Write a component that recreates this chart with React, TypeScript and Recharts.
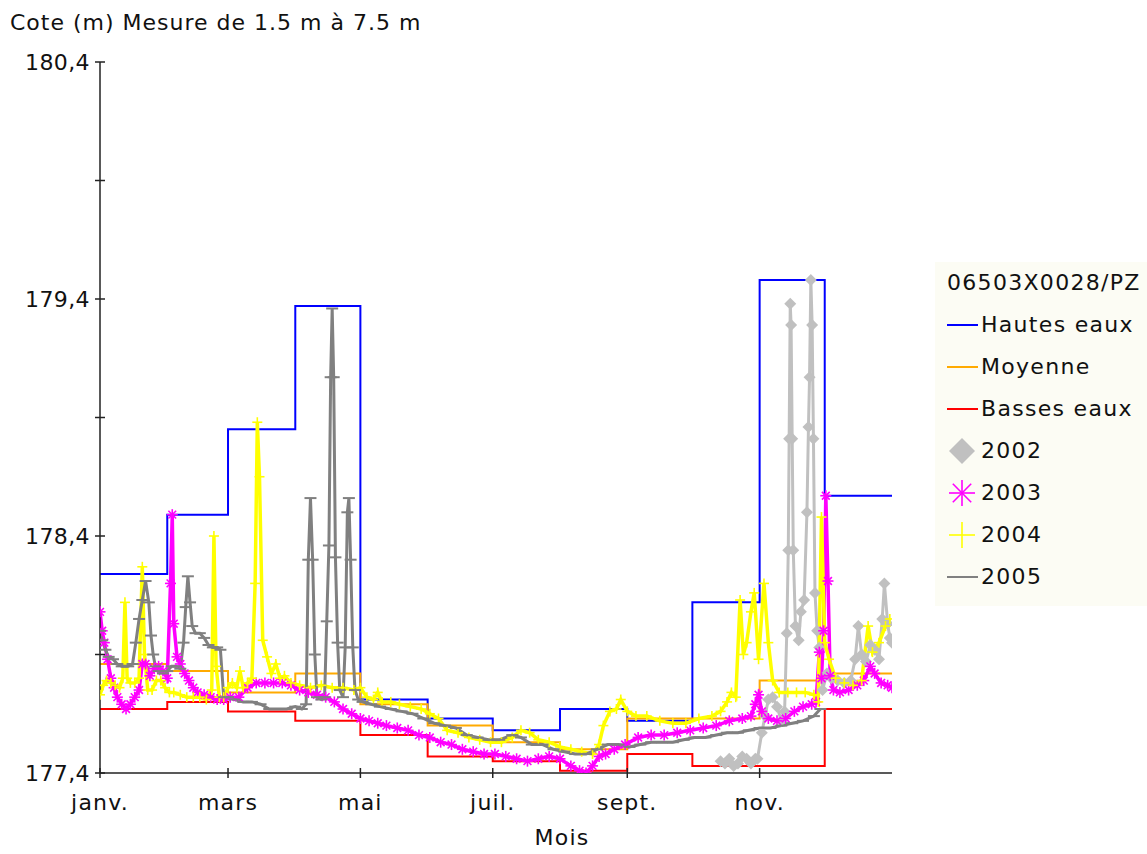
import React from 'react';
import { ComposedChart, Line, XAxis, YAxis, Legend } from 'recharts';

// ---- Reference steps (monthly) ----
const MONTH_START_DAYS = [0, 31, 59, 90, 120, 151, 181, 212, 243, 273, 304, 334, 365];
const HAUTES_EAUX = [178.24, 178.49, 178.85, 179.37, 177.71, 177.63, 177.58, 177.67, 177.62, 178.12, 179.48, 178.57];
const MOYENNE = [177.86, 177.83, 177.74, 177.82, 177.69, 177.6, 177.53, 177.5, 177.63, 177.63, 177.79, 177.82];
const BASSES_EAUX = [177.67, 177.70, 177.66, 177.62, 177.56, 177.47, 177.45, 177.41, 177.48, 177.43, 177.43, 177.67];

// ---- Axis ticks ----
const X_TICKS = [0, 59, 120, 181, 243, 304];
const X_TICK_LABELS = ['janv.', 'mars', 'mai', 'juil.', 'sept.', 'nov.'];
const Y_TICKS = [177.4, 177.9, 178.4, 178.9, 179.4, 179.9, 180.4];
const Y_LABELED = [177.4, 178.4, 179.4, 180.4];

// ---- Yearly measurements: [day of year, level] ----
const Y2002: [number, number][] = [
  [286, 177.45], [288, 177.44], [290, 177.46], [292, 177.43], [294, 177.44], [296, 177.47], [298, 177.46],
  [300, 177.44], [302, 177.46], [303, 177.46], [305, 177.57], [306.5, 177.64], [308, 177.71], [310, 177.72],
  [312, 177.68], [314, 177.62], [315.5, 177.66], [316.5, 177.99], [317.2, 178.34], [317.6, 178.81],
  [318.1, 179.38], [318.5, 179.29], [319, 178.81], [319.5, 178.34], [320.5, 178.02], [322, 177.96],
  [323, 178.08], [324.5, 178.13], [325.8, 178.5], [326.5, 178.86], [327, 179.07], [327.6, 179.48],
  [328.2, 179.29], [328.8, 178.81], [329.5, 178.16], [330.5, 178.0], [331.5, 177.93], [333, 177.75],
  [335, 177.82], [337, 177.8], [340, 177.79], [343, 177.78], [346, 177.79], [348, 177.88], [349.5, 178.02],
  [351, 177.9], [353, 177.87], [355, 177.94], [357, 177.92], [359, 177.88], [360.5, 178.05], [361.5, 178.2],
  [363, 178.03], [364, 177.97], [365, 177.95],
];

const Y2003: [number, number][] = [
  [0, 178.08], [1, 178.0], [2, 177.95], [3.5, 177.88], [5, 177.8], [6.5, 177.76], [8, 177.72], [10, 177.69],
  [12, 177.67], [14, 177.69], [16, 177.72], [18, 177.75], [19.5, 177.86], [21, 177.86], [23, 177.81],
  [25, 177.84], [27, 177.85], [29, 177.83], [31, 177.8], [32.5, 178.2], [33.3, 178.49], [34, 178.03],
  [35.5, 177.89], [37, 177.86], [39, 177.82], [41, 177.79], [43, 177.76], [45, 177.74], [48, 177.73],
  [51, 177.72], [54, 177.71], [57, 177.71], [60, 177.72], [64, 177.72], [68, 177.76], [72, 177.78],
  [76, 177.78], [80, 177.78], [84, 177.78], [88, 177.77], [92, 177.75], [96, 177.74], [100, 177.73],
  [104, 177.72], [108, 177.7], [112, 177.67], [116, 177.65], [120, 177.63], [124, 177.62], [128, 177.61],
  [132, 177.6], [137, 177.59], [142, 177.58], [147, 177.56], [152, 177.55], [157, 177.53], [162, 177.52],
  [167, 177.5], [172, 177.49], [177, 177.48], [182, 177.48], [187, 177.47], [192, 177.46], [197, 177.45],
  [202, 177.46], [207, 177.47], [212, 177.46], [217, 177.43], [221, 177.41], [224, 177.4], [227, 177.43],
  [230, 177.47], [233, 177.48], [237, 177.5], [242, 177.52], [248, 177.55], [254, 177.56], [260, 177.56],
  [266, 177.57], [272, 177.58], [278, 177.59], [284, 177.6], [290, 177.62], [296, 177.63], [300, 177.64],
  [302, 177.69], [303.5, 177.73], [305, 177.66], [308, 177.63], [312, 177.62], [316, 177.63], [320, 177.66],
  [324, 177.68], [328, 177.69], [330, 177.7], [331.5, 177.91], [332.5, 177.8], [333.5, 178.0], [334.5, 178.57],
  [335.5, 178.21], [336.5, 177.81], [338, 177.75], [341, 177.74], [345, 177.75], [349, 177.77], [352, 177.79],
  [355, 177.85], [357, 177.82], [360, 177.78], [363, 177.77], [365, 177.76],
];

const Y2004: [number, number][] = [
  [0, 177.73], [1.5, 177.77], [3, 177.79], [5, 177.78], [7, 177.77], [9, 177.76], [10.5, 177.8], [11.5, 178.12],
  [12.5, 177.8], [14, 177.78], [16, 177.78], [18, 177.8], [19.5, 178.27], [20.5, 177.9], [22, 177.75],
  [24, 177.75], [26, 177.79], [28, 177.79], [30, 177.76], [32, 177.74], [34, 177.74], [37, 177.73],
  [40, 177.72], [43, 177.72], [46, 177.72], [49, 177.71], [51.5, 177.75], [52.5, 178.4], [53.5, 177.85],
  [55, 177.72], [57, 177.72], [59, 177.76], [61, 177.78], [63, 177.76], [64.5, 177.83], [66, 177.76],
  [68, 177.78], [70, 177.8], [71.5, 178.2], [72.5, 178.88], [73.5, 178.65], [75, 177.96], [77, 177.89],
  [79, 177.82], [81, 177.86], [83, 177.8], [85, 177.81], [88, 177.78], [92, 177.77], [97, 177.76],
  [102, 177.77], [107, 177.76], [112, 177.76], [117, 177.75], [120, 177.76], [123, 177.72], [126, 177.71],
  [128, 177.74], [130, 177.7], [134, 177.7], [138, 177.69], [143, 177.68], [148, 177.67], [152, 177.65],
  [156, 177.63], [160, 177.58], [165, 177.57], [170, 177.55], [175, 177.54], [180, 177.53], [185, 177.53],
  [190, 177.55], [194, 177.58], [198, 177.57], [202, 177.54], [207, 177.53], [212, 177.51], [217, 177.5],
  [222, 177.49], [227, 177.48], [230, 177.52], [232, 177.6], [235, 177.66], [238, 177.67], [240, 177.71],
  [243, 177.66], [247, 177.64], [252, 177.64], [258, 177.62], [264, 177.61], [270, 177.61], [276, 177.63],
  [282, 177.64], [286, 177.66], [289, 177.7], [291, 177.74], [293, 177.72], [295, 178.13], [296.5, 177.9],
  [298, 177.95], [300, 178.08], [301.5, 178.16], [303.5, 177.88], [306, 178.2], [308, 177.95], [310, 177.79],
  [313, 177.74], [317, 177.74], [321, 177.74], [325, 177.74], [329, 177.73], [331, 177.7], [332.5, 178.48],
  [334, 177.95], [336, 177.88], [339, 177.8], [343, 177.78], [347, 177.77], [351, 177.79], [354, 178.02],
  [356, 177.91], [359, 177.95], [362, 178.02], [364, 178.05],
];

const Y2005: [number, number][] = [
  [0, 178.0], [1, 177.96], [2.5, 177.92], [4, 177.89], [6, 177.88], [8, 177.86], [10, 177.85], [13, 177.85],
  [15, 177.86], [16.5, 177.95], [18, 178.05], [19.5, 178.13], [21, 178.21], [22.5, 178.12], [23.5, 177.98],
  [24.5, 177.9], [25.5, 177.85], [27, 177.83], [29, 177.82], [31, 177.83], [33, 177.85], [35, 177.85],
  [37, 177.84], [38.5, 177.95], [39.5, 178.1], [40.5, 178.23], [41.5, 178.12], [42.5, 178.02], [44, 177.99],
  [46, 177.99], [48, 177.97], [50, 177.94], [52, 177.93], [54, 177.93], [55.5, 177.92], [57, 177.72],
  [59, 177.72], [62, 177.71], [66, 177.7], [70, 177.7], [74, 177.69], [78, 177.67], [82, 177.67], [86, 177.67],
  [90, 177.68], [93, 177.67], [95, 177.69], [96, 178.3], [97, 178.56], [98, 178.3], [99, 177.9], [100, 177.72],
  [102, 177.71], [103.5, 177.72], [104.5, 178.04], [105.5, 178.36], [106.3, 179.07], [107, 179.36],
  [107.7, 179.07], [108.5, 178.31], [109.5, 177.95], [110.5, 177.75], [112, 177.72], [113, 177.93],
  [114, 178.5], [114.7, 178.56], [115.5, 178.3], [116.5, 177.93], [117.5, 177.75], [119, 177.71],
  [121, 177.7], [125, 177.69], [129, 177.68], [134, 177.67], [139, 177.66], [144, 177.65], [149, 177.63],
  [154, 177.61], [159, 177.6], [164, 177.59], [169, 177.56], [174, 177.55], [179, 177.54], [184, 177.54],
  [190, 177.56], [194, 177.55], [199, 177.52], [204, 177.52], [209, 177.5], [214, 177.49], [219, 177.48],
  [224, 177.48], [229, 177.5], [234, 177.52], [239, 177.52], [244, 177.51], [249, 177.52], [254, 177.53],
  [259, 177.53], [264, 177.53], [269, 177.54], [274, 177.55], [279, 177.55], [284, 177.56], [289, 177.57],
  [294, 177.57], [299, 177.58], [304, 177.59], [309, 177.59], [314, 177.6], [319, 177.61], [324, 177.62],
  [329, 177.64], [332, 177.67],
];

const FONT = '"DejaVu Sans", "Liberation Sans", Arial, sans-serif';

const toPoints = (arr: [number, number][]) => arr.map(([d, v]) => ({ d, v }));
const toSteps = (vals: number[]) =>
  MONTH_START_DAYS.map((d, i) => ({ d, v: vals[Math.min(i, vals.length - 1)] }));

const C_HAUT = '#0000ff';
const C_MOY = '#ffaa00';
const C_BAS = '#ff0000';
const C_2002 = '#c0c0c0';
const C_2003 = '#ff00ff';
const C_2004 = '#ffff00';
const C_2005 = '#808080';

type Shape = 'diamond' | 'asterisk' | 'plus' | 'dash';

function marker(shape: Shape, cx: number, cy: number, r: number, color: string, key?: string) {
  if (shape === 'diamond') {
    return <path key={key} d={`M${cx},${cy - r}L${cx + r},${cy}L${cx},${cy + r}L${cx - r},${cy}Z`} fill={color} />;
  }
  if (shape === 'asterisk') {
    const k = r * 0.7071;
    return (
      <g key={key} stroke={color} strokeWidth={1.6}>
        <line x1={cx - r} y1={cy} x2={cx + r} y2={cy} />
        <line x1={cx} y1={cy - r} x2={cx} y2={cy + r} />
        <line x1={cx - k} y1={cy - k} x2={cx + k} y2={cy + k} />
        <line x1={cx - k} y1={cy + k} x2={cx + k} y2={cy - k} />
      </g>
    );
  }
  if (shape === 'plus') {
    return (
      <g key={key} stroke={color} strokeWidth={1.6}>
        <line x1={cx - r} y1={cy} x2={cx + r} y2={cy} />
        <line x1={cx} y1={cy - r} x2={cx} y2={cy + r} />
      </g>
    );
  }
  return <line key={key} x1={cx - r} y1={cy} x2={cx + r} y2={cy} stroke={color} strokeWidth={2} />;
}

const dotRenderer = (shape: Shape, r: number, color: string) => (props: any) => {
  const { cx, cy, index } = props;
  if (cx == null || cy == null) return <g key={`e-${index}`} />;
  return marker(shape, cx, cy, r, color, `${shape}-${index}`);
};

const YTick = (props: any) => {
  const { x, y, payload } = props;
  const val = Number(payload.value);
  const labeled = Y_LABELED.some((t) => Math.abs(t - val) < 1e-6);
  return (
    <g>
      <line x1={x - 5} x2={x + 5} y1={y} y2={y} stroke="#222" strokeWidth={1.5} />
      {labeled && (
        <text x={x - 10} y={y} textAnchor="end" dominantBaseline="central" fontSize={22} letterSpacing={0.4} fontFamily={FONT} fill="#111">
          {val.toFixed(1).replace('.', ',')}
        </text>
      )}
    </g>
  );
};

const XTick = (props: any) => {
  const { x, y, payload } = props;
  const idx = X_TICKS.indexOf(Number(payload.value));
  return (
    <g>
      <line x1={x} x2={x} y1={y - 5} y2={y + 5} stroke="#222" strokeWidth={1.5} />
      <text x={x} y={y + 29} textAnchor="middle" dominantBaseline="central" fontSize={22} letterSpacing={1.2} fontFamily={FONT} fill="#111">
        {idx >= 0 ? X_TICK_LABELS[idx] : ''}
      </text>
    </g>
  );
};

const LEGEND_ITEMS: { name: string; color: string; kind: 'line' | Shape }[] = [
  { name: 'Hautes eaux', color: C_HAUT, kind: 'line' },
  { name: 'Moyenne', color: C_MOY, kind: 'line' },
  { name: 'Basses eaux', color: C_BAS, kind: 'line' },
  { name: '2002', color: C_2002, kind: 'diamond' },
  { name: '2003', color: C_2003, kind: 'asterisk' },
  { name: '2004', color: C_2004, kind: 'plus' },
  { name: '2005', color: C_2005, kind: 'line' },
];

const LegendContent = () => (
  <div style={{ fontFamily: FONT, fontSize: 22, letterSpacing: '1.3px', color: '#111', lineHeight: '42px', background: '#fcfcf4', padding: '0 4px 8px 12px' }}>
    <div style={{ height: 42 }}>06503X0028/PZ</div>
    {LEGEND_ITEMS.map((it) => (
      <div key={it.name} style={{ display: 'flex', alignItems: 'center', height: 42 }}>
        <svg width={34} height={34} style={{ marginRight: 0 }}>
          {it.kind === 'line' ? (
            <line x1={0} x2={31} y1={17} y2={17} stroke={it.color} strokeWidth={2} />
          ) : (
            marker(it.kind as Shape, 15, 17, 13, it.color)
          )}
        </svg>
        <span>{it.name}</span>
      </div>
    ))}
  </div>
);

export default function App() {
  const hautes = toSteps(HAUTES_EAUX);
  const moyenne = toSteps(MOYENNE);
  const basses = toSteps(BASSES_EAUX);
  return (
    <div style={{ position: 'absolute', left: 0, top: 0, width: 1147, height: 854, background: '#ffffff' }}>
      <ComposedChart width={1147} height={854} margin={{ top: 62, right: 255, bottom: 0, left: 10 }}>
        <XAxis
          dataKey="d"
          type="number"
          domain={[0, 365]}
          ticks={X_TICKS}
          tick={<XTick />}
          tickLine={false}
          tickSize={0}
          tickMargin={0}
          height={81}
          axisLine={{ stroke: '#222', strokeWidth: 1.5 }}
          allowDataOverflow
          label={{
            content: (p: any) => {
              const vb = p.viewBox || { x: 100, y: 773, width: 792 };
              return (
                <text x={vb.x + vb.width / 2 + 66} y={vb.y + 64} textAnchor="middle" dominantBaseline="central" fontSize={22} letterSpacing={1.2} fontFamily={FONT} fill="#111">
                  Mois
                </text>
              );
            },
          }}
        />
        <YAxis
          dataKey="v"
          type="number"
          domain={[177.4, 180.4]}
          ticks={Y_TICKS}
          tick={<YTick />}
          tickLine={false}
          tickSize={0}
          tickMargin={0}
          width={90}
          axisLine={{ stroke: '#222', strokeWidth: 1.5 }}
          allowDataOverflow
          label={{
            content: () => (
              <text x={10} y={22} textAnchor="start" dominantBaseline="central" fontSize={22} letterSpacing={1.0} fontFamily={FONT} fill="#111">
                Cote (m) Mesure de 1.5 m à 7.5 m
              </text>
            ),
          }}
        />
        <Legend
          layout="vertical"
          align="center"
          verticalAlign="middle"
          content={<LegendContent />}
          wrapperStyle={{ left: 935, top: 262, width: 212 }}
        />
        <Line name="Hautes eaux" data={hautes} dataKey="v" type="stepAfter" stroke={C_HAUT} strokeWidth={2} dot={false} activeDot={false} isAnimationActive={false} />
        <Line name="Moyenne" data={moyenne} dataKey="v" type="stepAfter" stroke={C_MOY} strokeWidth={2} dot={false} activeDot={false} isAnimationActive={false} />
        <Line name="Basses eaux" data={basses} dataKey="v" type="stepAfter" stroke={C_BAS} strokeWidth={2} dot={false} activeDot={false} isAnimationActive={false} />
        <Line name="2002" data={toPoints(Y2002)} dataKey="v" type="linear" stroke={C_2002} strokeWidth={3} dot={dotRenderer('diamond', 6, C_2002)} activeDot={false} isAnimationActive={false} />
        <Line name="2003" data={toPoints(Y2003)} dataKey="v" type="linear" stroke={C_2003} strokeWidth={3.5} dot={dotRenderer('asterisk', 5.5, C_2003)} activeDot={false} isAnimationActive={false} />
        <Line name="2004" data={toPoints(Y2004)} dataKey="v" type="linear" stroke={C_2004} strokeWidth={3.5} dot={dotRenderer('plus', 5, C_2004)} activeDot={false} isAnimationActive={false} />
        <Line name="2005" data={toPoints(Y2005)} dataKey="v" type="linear" stroke={C_2005} strokeWidth={3} dot={dotRenderer('dash', 6, C_2005)} activeDot={false} isAnimationActive={false} />
      </ComposedChart>
    </div>
  );
}
